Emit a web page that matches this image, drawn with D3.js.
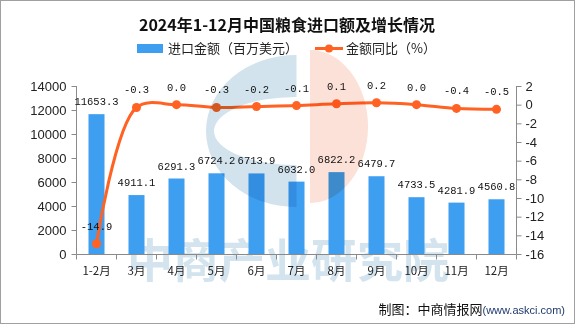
<!DOCTYPE html>
<html><head><meta charset="utf-8">
<script src="https://cdn.jsdelivr.net/npm/d3@7"></script>
<style>
html,body{margin:0;padding:0;background:#fff;}
svg{display:block;}
</style></head>
<body>
<script>
const categories = ["1-2月","3月","4月","5月","6月","7月","8月","9月","10月","11月","12月"];
const importValues = [11653.3, 4911.1, 6291.3, 6724.2, 6713.9, 6032.0, 6822.2, 6479.7, 4733.5, 4281.9, 4560.8];
const yoyValues = [-14.9, -0.3, 0.0, -0.3, -0.2, -0.1, 0.1, 0.2, 0.0, -0.4, -0.5];
const leftTicks = [0,2000,4000,6000,8000,10000,12000,14000];
const rightTicks = [-16,-14,-12,-10,-8,-6,-4,-2,0,2];
const titleText = "2024年1-12月中国粮食进口额及增长情况";
const legendBar = "进口金额（百万美元）";
const legendLine = "金额同比（%）";

const W = 575, H = 324;
const barColor = "#3E9EF0", lineColor = "#FF6222", axisColor = "#8a8a8a";
const cjk = "'Noto Sans CJK SC','Noto Sans',sans-serif";
const mono = "'Liberation Mono','DejaVu Sans Mono',monospace";

const svg = d3.select("body").append("svg").attr("width", W).attr("height", H);
svg.append("rect").attr("x",0.5).attr("y",0.5).attr("width",W-1).attr("height",H-1)
  .attr("fill","#fff").attr("stroke","#a0a0a0");

const x = d3.scaleBand().domain(categories).range([76.5, 516.5]);
const yL = d3.scaleLinear().domain([0,14000]).range([254, 86]);
const yR = d3.scaleLinear().domain([-16,2]).range([254, 86]);

// watermark text (behind)
svg.append("text").attr("x", 288).attr("y", 257).attr("text-anchor","middle")
  .attr("dominant-baseline","central").attr("font-family", cjk).attr("font-weight","bold")
  .attr("font-size", 46).attr("fill","#d3e4ef")
  .text("中商产业研究院");

// title
svg.append("text").attr("x", 287).attr("y", 31).attr("text-anchor","middle")
  .attr("font-family", cjk).attr("font-weight","bold").attr("font-size",16).attr("fill","#111")
  .text(titleText);

// legend
svg.append("rect").attr("x",137).attr("y",44).attr("width",26).attr("height",9).attr("fill",barColor);
svg.append("text").attr("x",168).attr("y",53).attr("font-family",cjk).attr("font-size",13).attr("fill","#222").text(legendBar);
svg.append("line").attr("x1",315).attr("x2",343).attr("y1",48.5).attr("y2",48.5).attr("stroke",lineColor).attr("stroke-width",3);
svg.append("circle").attr("cx",329).attr("cy",48.5).attr("r",4).attr("fill",lineColor);
svg.append("text").attr("x",346).attr("y",53).attr("font-family",cjk).attr("font-size",13).attr("fill","#222").text(legendLine);

// bars
const bw = 16;
svg.append("g").selectAll("rect").data(importValues).join("rect")
  .attr("x",(d,i)=>x(categories[i]) + x.bandwidth()/2 - bw/2)
  .attr("y",d=>yL(d)).attr("width",bw).attr("height",d=>yL(0)-yL(d))
  .attr("fill",barColor);

// axes
const axL = svg.append("g").attr("transform","translate(76.5,0)")
  .call(d3.axisLeft(yL).tickValues(leftTicks).tickSize(5).tickPadding(5).tickFormat(d3.format("d")));
const axR = svg.append("g").attr("transform","translate(516.5,0)")
  .call(d3.axisRight(yR).tickValues(rightTicks).tickSize(5).tickPadding(4).tickFormat(d=>String(d)));
const axB = svg.append("g").attr("transform","translate(0,254.5)")
  .call(d3.axisBottom(x).tickSize(0).tickPadding(12));
axB.selectAll(".tick").each(function(d,i){
  d3.select(this).append("line").attr("x1",-x.bandwidth()/2).attr("x2",-x.bandwidth()/2).attr("y1",0).attr("y2",5).attr("stroke",axisColor);
});
axB.append("line").attr("x1",516.5).attr("x2",516.5).attr("y1",0).attr("y2",5).attr("stroke",axisColor);
[axL,axR,axB].forEach(a=>{
  a.select(".domain").attr("stroke",axisColor);
  a.selectAll(".tick line").attr("stroke",axisColor);
});
axL.select(".domain").attr("d","M0,86V254");
axR.select(".domain").attr("d","M0,86V254");
axB.select(".domain").attr("d","M76.5,0H516.5");
axL.selectAll("text").attr("font-family","'Liberation Sans',Arial,sans-serif").attr("font-size",13).attr("fill","#222");
axR.selectAll("text").attr("font-family","'Liberation Sans',Arial,sans-serif").attr("font-size",13).attr("fill","#222");
axB.selectAll("text").attr("font-family",cjk).attr("font-size",11.5).attr("fill","#222");

// line
const pts = yoyValues.map((v,i)=>[x(categories[i]) + x.bandwidth()/2, yR(v)]);
svg.append("path").attr("d", d3.line().curve(d3.curveCatmullRom.alpha(0.5))(pts))
  .attr("fill","none").attr("stroke",lineColor).attr("stroke-width",3);
svg.append("g").selectAll("circle").data(pts).join("circle")
  .attr("cx",d=>d[0]).attr("cy",d=>d[1]).attr("r",4.5).attr("fill",lineColor);

// bar labels
svg.append("g").selectAll("text").data(importValues).join("text")
  .attr("x",(d,i)=>x(categories[i]) + x.bandwidth()/2).attr("y",d=>yL(d)-9)
  .attr("text-anchor","middle").attr("font-family",mono).attr("font-size",10.5).attr("fill","#111")
  .text(d=>d.toFixed(1));
// line labels
svg.append("g").selectAll("text").data(yoyValues).join("text")
  .attr("x",(d,i)=>x(categories[i]) + x.bandwidth()/2).attr("y",d=>yR(d)-14)
  .attr("text-anchor","middle").attr("font-family",mono).attr("font-size",10.5).attr("fill","#111")
  .text(d=>d.toFixed(1));

// logo watermark on top (multiply)
const defs = svg.append("defs");
defs.append("clipPath").attr("id","cl").append("rect").attr("x",0).attr("y",0).attr("width",296.5).attr("height",H);
defs.append("clipPath").attr("id","cr").append("rect").attr("x",310).attr("y",0).attr("width",300).attr("height",H);
const logo = svg.append("g").style("mix-blend-mode","multiply");
// blue "C" half: outer half-ellipse minus inner half-ellipse
logo.append("path").attr("clip-path","url(#cl)").attr("fill-rule","evenodd").attr("fill","#d2e3ee")
  .attr("d", "M206,131a90,76 0 1,0 180,0a90,76 0 1,0 -180,0Z M214,131a82,34 0 1,0 164,0a82,34 0 1,0 -164,0Z");
// orange half
logo.append("path").attr("clip-path","url(#cr)").attr("fill","#fbe1d7")
  .attr("d", "M252,126.5a58,76.5 0 1,0 116,0a58,76.5 0 1,0 -116,0Z");

// footer
const f = svg.append("text").attr("x",565).attr("y",314).attr("text-anchor","end");
f.append("tspan").attr("font-family",cjk).attr("font-size",13).attr("fill","#111").text("制图：中商情报网");
f.append("tspan").attr("font-family","'Liberation Sans',Arial,sans-serif").attr("font-size",11).attr("fill","#1f3a6e").text("(www.askci.com)");
</script>
</body></html>
